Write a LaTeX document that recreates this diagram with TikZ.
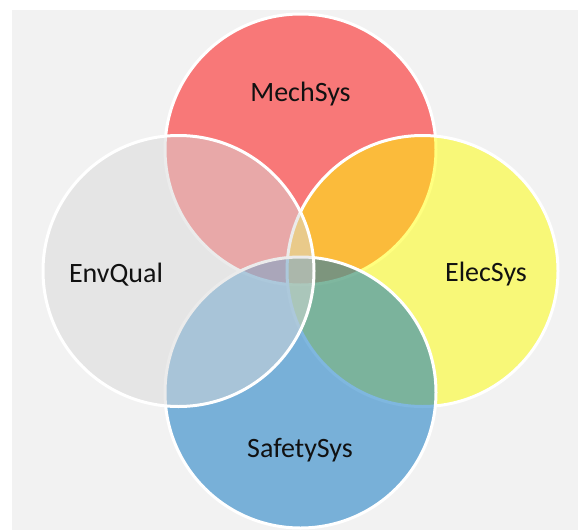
\documentclass[tikz,border=0pt]{standalone}
\usepackage{fontspec}
\setmainfont{Carlito}
\definecolor{bggray}{HTML}{F2F2F2}
\definecolor{mechred}{HTML}{FF0000}
\definecolor{elecyellow}{HTML}{FFFF00}
\definecolor{safetyblue}{HTML}{0070C0}
\definecolor{envgray}{HTML}{D9D9D9}
\definecolor{labeltext}{HTML}{111111}
\begin{document}
\begin{tikzpicture}[x=1pt,y=-1pt,
  venn/.style={circle, minimum size=271pt, inner sep=0pt, draw=white,
               line width=3pt, fill opacity=0.5},
  lbl/.style={anchor=base, text=labeltext,
              font=\fontsize{28}{32}\selectfont}]
  \useasboundingbox (0,0) rectangle (578,530);
  % panel background
  \fill[bggray] (12,9.5) rectangle (578,530);

  % four translucent circles, drawn clockwise from the top
  \node[venn, fill=mechred]    (mech)   at (300.5,149.5) {};
  \node[venn, fill=elecyellow] (elec)   at (422.5,271)   {};
  \node[venn, fill=safetyblue] (safety) at (300.5,392.5) {};
  \node[venn, fill=envgray]    (env)    at (178.5,271)   {};

  % labels
  \node[lbl] (mechlbl)   at (300.5,101) {MechSys};
  \node[lbl] (eleclbl)   at (486,281)   {ElecSys};
  \node[lbl] (safetylbl) at (300,457)   {SafetySys};
  \node[lbl] (envlbl)    at (116,282)   {EnvQual};
\end{tikzpicture}
\end{document}
